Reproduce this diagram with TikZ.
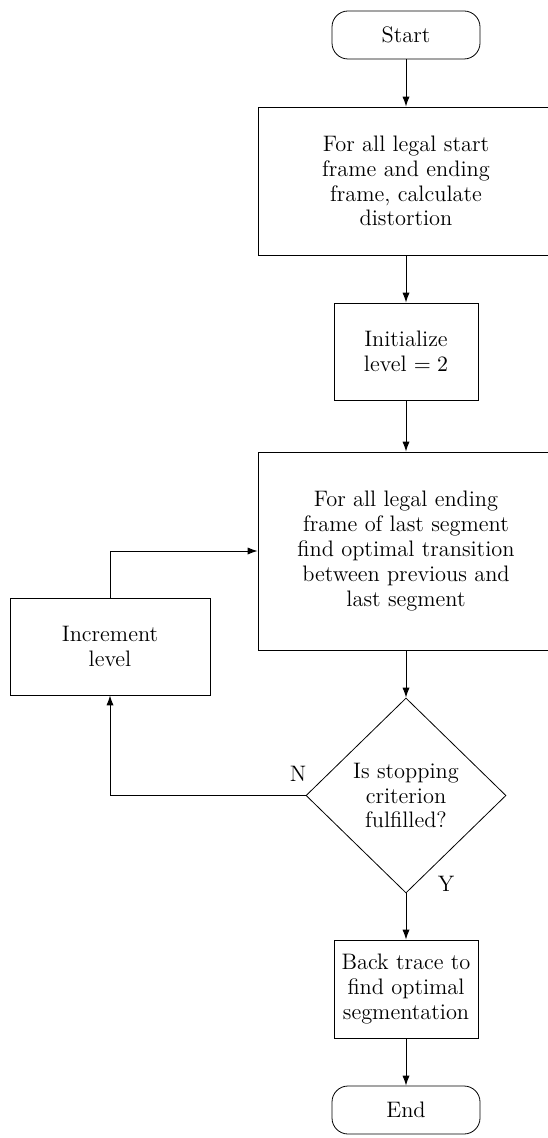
\documentclass[tikz,border=0pt]{standalone}
\usetikzlibrary{shapes.geometric,arrows.meta}
\begin{document}
\begin{tikzpicture}[x=0.5pt,y=-0.5pt,
  every node/.style={font=\fontsize{11.2}{12.4}\selectfont},
  terminal/.style={draw, rounded corners=8pt, minimum width=74pt, minimum height=24pt, inner sep=0pt},
  procbox/.style={draw, align=center, inner sep=0pt},
  decision/.style={draw, diamond, aspect=1, inner sep=0pt, minimum width=100pt, minimum height=97.5pt, align=center},
  flow/.style={draw, line width=0.5pt, -{Latex[length=5pt,width=3.6pt]}},
  lbl/.style={inner sep=0pt}
]
\useasboundingbox (0,0) rectangle (547,1138);

% process chain
\node[terminal] (start) at (406,35) {Start};
\node[procbox, minimum width=148pt, minimum height=74pt] (calc) at (406,181)
  {For all legal start\\frame and ending\\frame, calculate\\distortion};
\node[procbox, minimum width=72pt, minimum height=48.5pt] (init) at (406,351.5)
  {Initialize\\level $=2$};
\node[procbox, minimum width=148pt, minimum height=99pt] (trans) at (406,551)
  {For all legal ending\\frame of last segment\\find optimal transition\\between previous and\\last segment};
\node[procbox, minimum width=100pt, minimum height=48.5pt] (inc) at (110,646.5)
  {Increment\\level};
\node[decision] (stop) at (406,795.5)
  {Is stopping\\criterion\\fulfilled?};
\node[procbox, minimum width=72pt, minimum height=49pt] (back) at (406,989)
  {Back trace to\\find optimal\\segmentation};
\node[terminal] (end) at (406,1110) {End};

% branch labels
\node[lbl] (nlab) at (298,774) {N};
\node[lbl] (ylab) at (446,884) {Y};

% connectors
\draw[flow] (start) -- (calc);
\draw[flow] (calc) -- (init);
\draw[flow] (init) -- (trans);
\draw[flow] (trans) -- (stop);
\draw[flow] (stop) -- (back);
\draw[flow] (back) -- (end);
\draw[flow] (stop.west) -| (inc.south);
\draw[flow] (inc.north) |- (trans.west);
\end{tikzpicture}
\end{document}
